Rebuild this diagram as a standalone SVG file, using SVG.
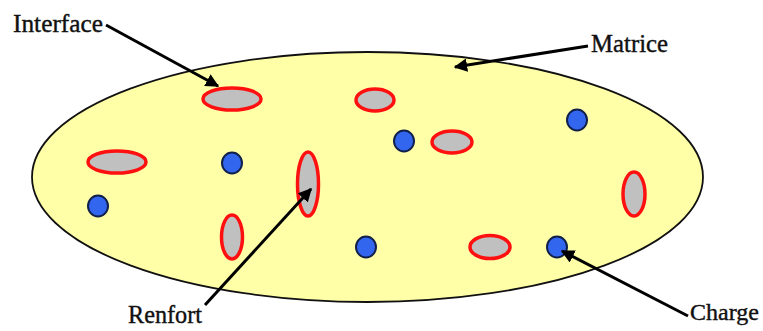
<svg xmlns="http://www.w3.org/2000/svg" width="763" height="331" viewBox="0 0 763 331">
<style>
.lbl{font-family:"Liberation Serif","Times New Roman",serif;font-size:26px;fill:#111;stroke:#111;stroke-width:0.4;}
.fib{fill:#c0c0c0;stroke:#ff1010;stroke-width:3.5;}
.dot{fill:#3366ee;stroke:#10204a;stroke-width:2;}
.con{stroke:#000;stroke-width:3;fill:none;marker-end:url(#ah);}
</style>
<defs>
<marker id="ah" viewBox="0 0 10 10" refX="9" refY="5" markerWidth="4.5" markerHeight="4.5" orient="auto" markerUnits="strokeWidth">
<path d="M0,0 L10,5 L0,10 z" fill="#000"/>
</marker>
</defs>
<rect width="763" height="331" fill="#fff"/>
<g id="matrix">
<ellipse cx="367.5" cy="177" rx="335.5" ry="125" fill="#ffffa8" stroke="#111" stroke-width="1.8"/>
</g>
<g id="fibers">
<ellipse id="f1" class="fib" cx="232" cy="99" rx="29" ry="11"/>
<ellipse id="f2" class="fib" cx="375" cy="100" rx="19" ry="11"/>
<ellipse id="f3" class="fib" cx="452" cy="142" rx="20" ry="11"/>
<ellipse id="f4" class="fib" cx="117" cy="162" rx="29" ry="11"/>
<ellipse id="f5" class="fib" cx="308" cy="184" rx="10.5" ry="32"/>
<ellipse id="f6" class="fib" cx="232" cy="237" rx="10.5" ry="22"/>
<ellipse id="f7" class="fib" cx="490" cy="247" rx="20" ry="11.5"/>
<ellipse id="f8" class="fib" cx="634" cy="194" rx="11" ry="22"/>
</g>
<g id="charges">
<ellipse id="c1" class="dot" cx="404" cy="141" rx="10" ry="10.5"/>
<ellipse id="c2" class="dot" cx="577" cy="120" rx="10" ry="10.5"/>
<ellipse id="c3" class="dot" cx="232" cy="163" rx="10" ry="10.5"/>
<ellipse id="c4" class="dot" cx="98" cy="206" rx="10" ry="10.5"/>
<ellipse id="c5" class="dot" cx="366" cy="247" rx="10" ry="10.5"/>
<ellipse id="c6" class="dot" cx="557" cy="247" rx="10" ry="10.5"/>
</g>
<g id="connectors">
<line class="con" x1="106" y1="25" x2="218" y2="86"/>
<line class="con" x1="588" y1="46" x2="455" y2="67"/>
<line class="con" x1="205" y1="305" x2="311" y2="189"/>
<line class="con" x1="688" y1="316" x2="562" y2="251"/>
</g>
<g id="label-interface"><text class="lbl" x="13" y="32" textLength="90" lengthAdjust="spacingAndGlyphs">Interface</text></g>
<g id="label-matrice"><text class="lbl" x="591" y="52" textLength="77" lengthAdjust="spacingAndGlyphs">Matrice</text></g>
<g id="label-renfort"><text class="lbl" x="128" y="323" textLength="74" lengthAdjust="spacingAndGlyphs">Renfort</text></g>
<g id="label-charge"><text class="lbl" x="690" y="320" style="font-size:24px">Charge</text></g>
</svg>
